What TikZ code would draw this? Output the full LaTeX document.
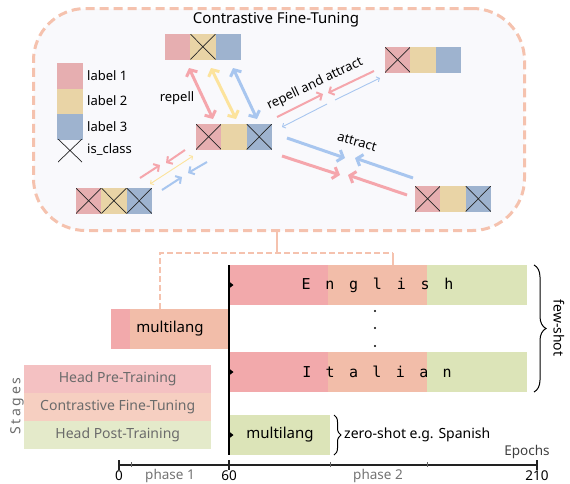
\documentclass[tikz,border=0pt]{standalone}
\usepackage{fontspec}
\setmainfont{Noto Sans}
\newfontfamily\monofont{DejaVu Sans Mono}
\newfontfamily\spacedfont[LetterSpace=18]{Noto Sans}
\usetikzlibrary{arrows.meta,decorations.pathreplacing,calc}
\definecolor{cellred}{HTML}{E6AEB0}
\definecolor{cellyel}{HTML}{E9D4A6}
\definecolor{cellblu}{HTML}{9EB3CF}
\definecolor{panelbg}{HTML}{F9F9FC}
\definecolor{panelline}{HTML}{F5C2AE}
\definecolor{apink}{HTML}{F5A6AC}
\definecolor{ayel}{HTML}{FCE39C}
\definecolor{ablu}{HTML}{A8C6EF}
\definecolor{barred}{HTML}{F2A9AB}
\definecolor{barsal}{HTML}{F2BDA9}
\definecolor{bargreen}{HTML}{DCE4B8}
\definecolor{lgpre}{HTML}{F4C1C2}
\definecolor{lgcon}{HTML}{F6CFC1}
\definecolor{lgpost}{HTML}{E4EACA}
\definecolor{lgtext}{HTML}{6B6B6B}
\definecolor{axisc}{HTML}{222222}
\begin{document}
\begin{tikzpicture}[x=1pt,y=-1pt,
  cellbase/.style={minimum width=25.3pt, minimum height=25.5pt, inner sep=0pt, outer sep=0pt, anchor=north west},
  xmark/.style={path picture={\draw[line width=0.7pt, black!85]
     (path picture bounding box.north west) -- (path picture bounding box.south east)
     (path picture bounding box.north east) -- (path picture bounding box.south west);}},
  redc/.style={cellbase, fill=cellred},
  yelc/.style={cellbase, fill=cellyel},
  bluc/.style={cellbase, fill=cellblu},
  lbl/.style={font=\fontsize{13}{15}\selectfont, inner sep=0pt},
  arrA/.style={line width=3pt, arrows={-Straight Barb[length=5pt,width=12pt]}},
  arrAA/.style={line width=3pt, arrows={Straight Barb[length=5pt,width=12pt]-Straight Barb[length=5pt,width=12pt]}},
  arrB/.style={line width=2pt, arrows={-Straight Barb[length=4pt,width=9pt]}},
  arrC/.style={line width=0.9pt, arrows={-Straight Barb[length=2.5pt,width=5.5pt]}},
  arrCC/.style={line width=0.9pt, arrows={Straight Barb[length=2.5pt,width=5.5pt]-Straight Barb[length=2.5pt,width=5.5pt]}},
  bar/.style={inner sep=0pt, outer sep=0pt, minimum height=40pt, anchor=north west},
  barlbl/.style={font=\fontsize{15}{18}\selectfont, inner sep=0pt},
  lgbox/.style={inner sep=0pt, minimum width=187pt, minimum height=27.7pt, anchor=north west, text=lgtext, font=\fontsize{14}{16}\selectfont},
  small/.style={font=\fontsize{14}{16}\selectfont, inner sep=0pt},
  axl/.style={font=\fontsize{13.5}{15}\selectfont, inner sep=0pt},
  conn/.style={draw=panelline, line width=1.3pt}
]
\useasboundingbox (0,0) rectangle (570,483);

% panel
\node[draw=panelline, fill=panelbg, line width=3pt, dash pattern=on 9pt off 5pt,
      rounded corners=52pt, minimum width=491pt, minimum height=222pt, inner sep=0pt,
      anchor=north west] (panel) at (32,7) {};
\node[font=\fontsize{15}{18}\selectfont, inner sep=0pt] (title) at (276,20) {Contrastive Fine-Tuning};

% legend
\node[redc, minimum width=26pt] (l1) at (57,63) {};
\node[yelc, minimum width=26pt] (l2) at (l1.south west) {};
\node[bluc, minimum width=26pt] (l3) at (l2.south west) {};
\node[inner sep=0pt, minimum width=24pt, minimum height=23pt, xmark] (lx) at (70,150.5) {};
\node[lbl, anchor=west] (t1) at (87,76) {label 1};
\node[lbl, anchor=west] (t2) at (87,101) {label 2};
\node[lbl, anchor=west] (t3) at (87,126.5) {label 3};
\node[lbl, anchor=west] (t4) at (87,150) {is\_class};

% top box
\node[redc] (ta) at (165,34) {};
\node[yelc, xmark] (tb) at (ta.north east) {};
\node[bluc] (tc) at (tb.north east) {};
% center box
\node[redc, xmark] (ca) at (196,124) {};
\node[yelc] (cb) at (ca.north east) {};
\node[bluc, xmark] (cc) at (cb.north east) {};
% bottom-left box
\node[redc, xmark] (ba) at (76,188) {};
\node[yelc, xmark] (bb) at (ba.north east) {};
\node[bluc, xmark] (bc) at (bb.north east) {};
% top-right box
\node[redc, xmark] (ra) at (385,47) {};
\node[yelc] (rb) at (ra.north east) {};
\node[bluc] (rc) at (rb.north east) {};
% bottom-right box
\node[redc, xmark] (sa) at (415,186) {};
\node[yelc] (sb) at (sa.north east) {};
\node[bluc, xmark] (sc) at (sb.north east) {};

% repell arrows
\draw[arrAA, apink] (189,68) -- (213,119);
\draw[arrAA, ayel] (211,68) -- (236,119);
\draw[arrAA, ablu] (233,68) -- (257,119);
\node[lbl] (rep) at (177,98) {repell};

% repell and attract
\draw[arrB, apink] (277,117) -- (323,94);
\draw[arrB, apink] (374,71) -- (328,93);
\draw[arrC, ablu] (335,100) -- (380,78);
\draw[arrC, ablu] (327,104) -- (282,127);
\node[lbl, rotate=25.5] (ra-t) at (315,84) {repell and attract};

% attract
\draw[arrA, ablu] (287,138) -- (345,158);
\draw[arrA, apink] (282,156) -- (340,175);
\draw[arrA, ablu] (413,178) -- (355,158);
\draw[arrA, apink] (407,195) -- (348,175);
\node[lbl, rotate=-16] (att) at (357,142) {attract};

% bottom-left arrows
\draw[arrB, apink] (140,178) -- (160,165);
\draw[arrB, apink] (185,150) -- (166,163);
\draw[arrCC, ayel] (150,184) -- (193,156);
\draw[arrB, ablu] (162,190) -- (182,177);
\draw[arrB, ablu] (207,162) -- (188,173);

% ---------- lower part ----------
% phase 1 bar
\node[bar, fill=barsal, minimum width=118pt] (p1) at (111,309) {};
\fill[barred] (p1.north west) rectangle ($(p1.south west)+(19,0)$);
\node[barlbl] (p1t) at (170,329) {multilang};

% English
\node[bar, fill=barred, minimum width=99pt] (e1) at (229,265) {};
\node[bar, fill=barsal, minimum width=99pt] (e2) at (e1.north east) {};
\node[bar, fill=bargreen, minimum width=100pt] (e3) at (e2.north east) {};
\node[inner sep=0pt, font=\monofont\fontsize{15}{18}\selectfont] (et) at (377.5,285)
  {\makebox[23.8pt]{E}\makebox[23.8pt]{n}\makebox[23.8pt]{g}\makebox[23.8pt]{l}\makebox[23.8pt]{i}\makebox[23.8pt]{s}\makebox[23.8pt]{h}};
% Italian
\node[bar, fill=barred, minimum width=99pt] (i1) at (229,352) {};
\node[bar, fill=barsal, minimum width=99pt] (i2) at (i1.north east) {};
\node[bar, fill=bargreen, minimum width=100pt] (i3) at (i2.north east) {};
\node[inner sep=0pt, font=\monofont\fontsize{15}{18}\selectfont] (it) at (377,372)
  {\makebox[23.4pt]{I}\makebox[23.4pt]{t}\makebox[23.4pt]{a}\makebox[23.4pt]{l}\makebox[23.4pt]{i}\makebox[23.4pt]{a}\makebox[23.4pt]{n}};
% dots
\fill (375,311) circle (1.1pt);
\fill (375,328) circle (1.1pt);
\fill (375,346) circle (1.1pt);

% zero-shot bar
\node[bar, fill=bargreen, minimum width=101pt] (z1) at (229,415) {};
\node[barlbl] (zt) at (280,435) {multilang};

% vertical line & markers
\draw[line width=1.6pt, black] (229,265) -- (229,455);
\fill (229,281.5) -- (233.5,285) -- (229,288.5) -- cycle;
\fill (229,368.5) -- (233.5,372) -- (229,375.5) -- cycle;
\fill (229,431.5) -- (233.5,435) -- (229,438.5) -- cycle;

% braces
\draw[decorate, decoration={brace, amplitude=12pt}, line width=1pt] (534,265) -- (534,392);
\node[small, rotate=-90] (fs) at (559,328) {few-shot};
\draw[decorate, decoration={brace, amplitude=7pt}, line width=1pt] (334,415) -- (334,455);
\node[small, anchor=west] (zs) at (344,435) {zero-shot e.g. Spanish};

% stages legend
\node[lgbox, fill=lgpre] (s1) at (24,365) {Head Pre-Training};
\node[lgbox, fill=lgcon] (s2) at (s1.south west) {Contrastive Fine-Tuning};
\node[lgbox, fill=lgpost] (s3) at (s2.south west) {Head Post-Training};
\node[inner sep=0pt, rotate=90, text=lgtext, font=\spacedfont\fontsize{14}{16}\selectfont] (stg) at (17,406) {Stages};

% dashed connectors
\coordinate (j) at (277,253);
\draw[conn] (panel.south -| j) -- (j);
\draw[conn, dash pattern=on 6pt off 3pt] (p1.north -| 160,0) -- (160,253) -- (393,253);
\draw[conn] (393,253) -- (e2.north -| 393,0);

% axis
\draw[line width=1.8pt, axisc] (119,465) -- (537,465);
\foreach \xx in {119,229,537} \draw[line width=1.5pt, axisc] (\xx,460) -- (\xx,470);
\foreach \xx in {131,330,427} \draw[line width=0.8pt, black!60] (\xx,462) -- (\xx,467);
\node[axl] (a0) at (119,476) {0};
\node[axl] (a60) at (229,476) {60};
\node[axl] (a210) at (537,476) {210};
\node[axl, text=black!55] (ph1) at (170,476) {phase 1};
\node[axl, text=black!55] (ph2) at (378,476) {phase 2};
\node[axl, text=black!75] (ep) at (527,452) {Epochs};
\end{tikzpicture}
\end{document}
